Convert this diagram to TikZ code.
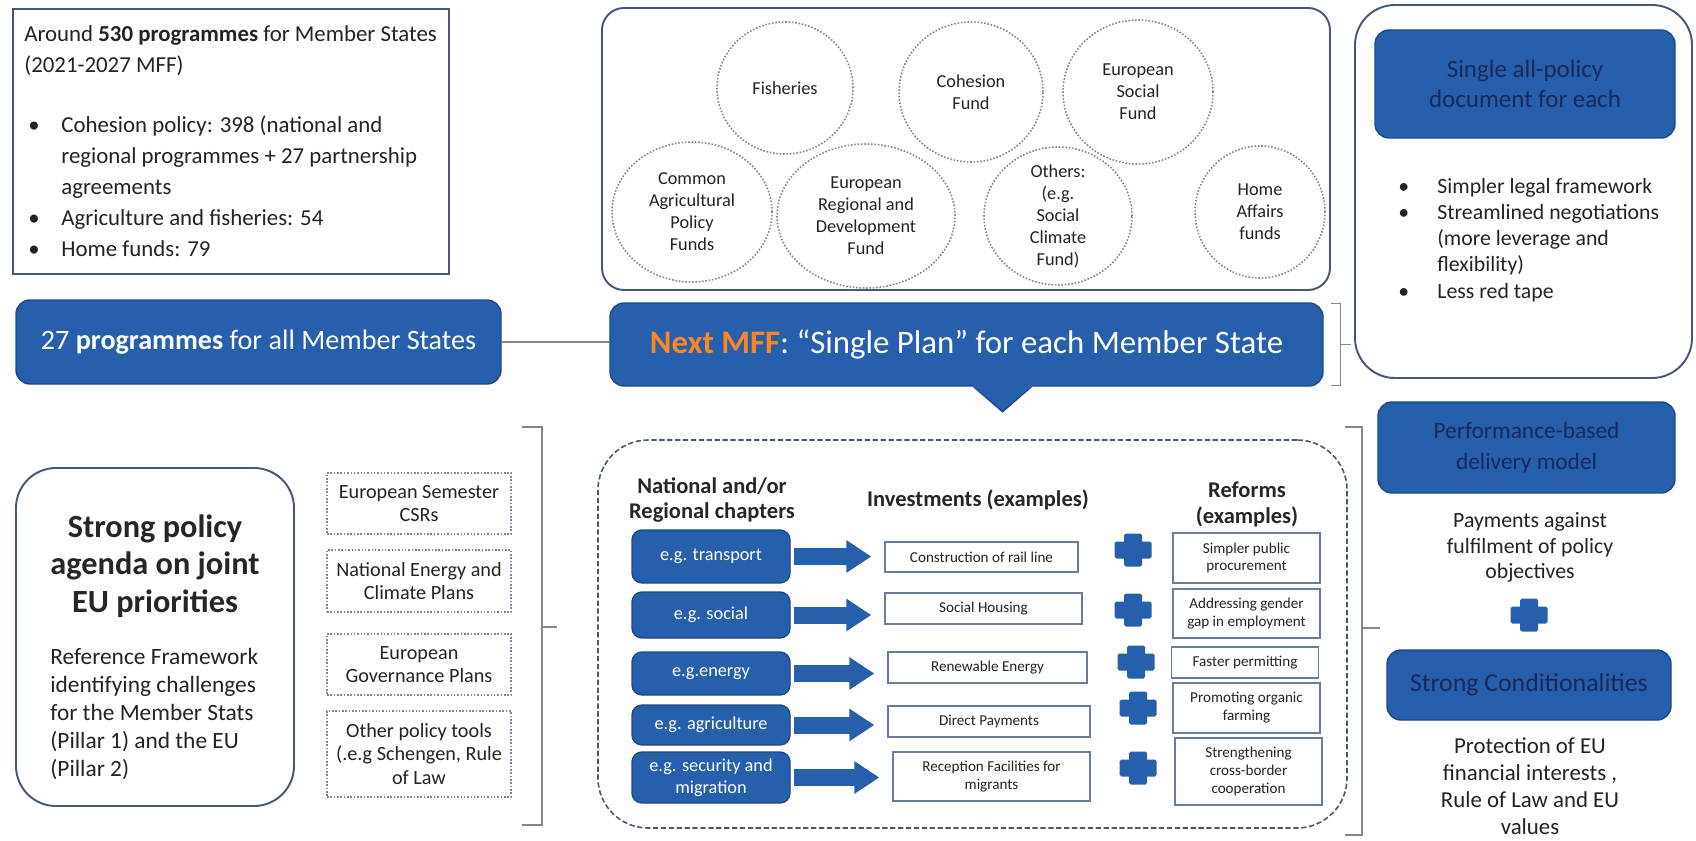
\documentclass[tikz,border=0pt]{standalone}
\usepackage{fontspec}
\setmainfont{Carlito}
\usetikzlibrary{arrows.meta,calc,shapes.geometric}
\definecolor{eublue}{RGB}{38,95,172}
\definecolor{euedge}{RGB}{30,72,138}
\definecolor{eunavy}{RGB}{24,42,92}
\definecolor{euorange}{RGB}{250,135,35}
\definecolor{eutext}{RGB}{35,35,35}
\definecolor{euframe}{RGB}{70,88,118}
\definecolor{euthin}{RGB}{105,125,155}
\definecolor{eudot}{RGB}{125,135,150}
\definecolor{euline}{RGB}{135,135,135}
\newlength{\pxu}
\setlength{\pxu}{0.02cm}

\begin{document}
\begin{tikzpicture}[x=0.02cm, y=-0.02cm,
    sz/.style 2 args={minimum width=#1*0.02cm, minimum height=#2*0.02cm},
    outerbox/.style={draw=euframe, line width=1.1pt, rounded corners=#1*0.02cm, inner sep=0pt},
    bluebox/.style={fill=eublue, draw=euedge, line width=0.8pt, rounded corners=#1*0.02cm, text=white, align=center, inner sep=0pt},
    headbox/.style={bluebox=14, text=eunavy},
    chapbox/.style={bluebox=10, minimum width=158*0.02cm, font=\fontsize{10.4}{12.5}\selectfont},
    fund/.style 2 args={ellipse, draw=eudot, densely dotted, line width=0.9pt, sz={#1}{#2}, inner sep=-0.3cm, align=center, text=eutext, font=\fontsize{10.4}{12.5}\selectfont},
    toolbox/.style={draw=eudot, densely dotted, line width=0.9pt, minimum width=184*0.02cm, inner sep=0pt, align=center, text=eutext, font=\fontsize{11.5}{13.4}\selectfont},
    planbox/.style={draw=euframe, dash pattern=on 3pt off 1.5pt, line width=0.9pt, rounded corners=50*0.02cm, inner sep=0pt},
    colhead/.style={align=center, inner sep=0pt, text=black!85, font=\bfseries\fontsize{12.8}{14.4}\selectfont},
    invbox/.style={draw=euthin, line width=0.8pt, fill=white, inner sep=0pt, align=center, text=eutext, font=\fontsize{8.6}{10.2}\selectfont},
    bodytxt/.style={align=center, inner sep=0pt, text=eutext, font=\fontsize{12.4}{14.7}\selectfont},
    bigarrow/.style={draw=eublue, line width=0.34cm, shorten <=0.06cm, shorten >=0.26cm, -{Triangle[length=0.5cm, width=0.62cm]}},
    brk/.style={draw=euline, line width=0.8pt}]

\fill[white] (0,0) rectangle (1696,841);
\useasboundingbox (0,0) rectangle (1696,841);

\node[outerbox=0, sz={436}{265}] (oldbox) at (231,141.5) {};
\node[anchor=west, align=left, inner sep=0pt, text=eutext, font=\fontsize{13}{17.6}\selectfont] (oldtxt) at (24,141)
  {Around \textbf{530 programmes} for Member States\\(2021-2027 MFF)\\[17pt]
   \hspace*{4\pxu}\makebox[33\pxu][l]{\textbullet}Cohesion policy: 398 (national and\\
   \hspace*{37\pxu}regional programmes + 27 partnership\\
   \hspace*{37\pxu}agreements\\
   \hspace*{4\pxu}\makebox[33\pxu][l]{\textbullet}Agriculture and fisheries: 54\\
   \hspace*{4\pxu}\makebox[33\pxu][l]{\textbullet}Home funds: 79};

\node[outerbox=22, sz={728}{282}] (fundbox) at (966,149) {};
\node[fund={136}{132}] (fish) at (785,88) {Fisheries};
\node[fund={144}{140}] (cohes) at (971,92) {Cohesion\\Fund};
\node[fund={150}{144}] (esf) at (1138,92) {European\\Social\\Fund};
\node[fund={160}{140}] (cap) at (692,212) {Common\\Agricultural\\Policy\\Funds};
\node[fund={178}{144}] (erdf) at (866,216) {European\\Regional and\\Development\\Fund};
\node[fund={148}{138}] (others) at (1058,216) {Others:\\(e.g.\\Social\\Climate\\Fund)};
\node[fund={130}{132}] (home) at (1260,212) {Home\\Affairs\\funds};

\node[outerbox=40, sz={337}{373}] (docbox) at (1523.5,191.5) {};
\node[headbox, sz={300}{108}, font=\fontsize{14.2}{17}\selectfont] (dochead) at (1525,84) {Single all-policy\\document for each};
\node[anchor=west, align=left, inner sep=0pt, text=eutext, font=\fontsize{12.4}{14.9}\selectfont] (doctxt) at (1398,240)
  {\makebox[39\pxu][l]{\textbullet}Simpler legal framework\\
   \makebox[39\pxu][l]{\textbullet}Streamlined negotiations\\
   \hspace*{39\pxu}(more leverage and\\
   \hspace*{39\pxu}flexibility)\\
   \makebox[39\pxu][l]{\textbullet}Less red tape};

\node[bluebox=14, sz={485}{84}, font=\fontsize{16}{18}\selectfont] (progs27) at (258.5,342) {27 \textbf{programmes} for all Member States};
\node[bluebox=14, sz={713}{83}, font=\fontsize{18.7}{22}\selectfont] (singleplan) at (966.5,344.5)
  {\textcolor{euorange}{\textbf{Next MFF}}: “Single Plan” for each Member State};
\fill[eublue] ($(singleplan.south)+(6,-2)$) -- ($(singleplan.south)+(36,25)$) -- ($(singleplan.south)+(66,-2)$) -- cycle;
\draw[euedge, line width=0.8pt] ($(singleplan.south)+(7,0)$) -- ($(singleplan.south)+(36,25)$) -- ($(singleplan.south)+(65,0)$);
\draw[euline, line width=0.8pt] (progs27.east) -- (progs27.east -| singleplan.west);
\draw[brk] ($(singleplan.north east)+(7,1)$) -| ($(singleplan.south east)+(17,-1)$) -- ++(-10,0)
  ($(singleplan.east)+(17,0)$) -- ($(singleplan.east)+(27,0)$);

\node[outerbox=40, sz={278}{338}] (policybox) at (155,637) {};
\node[align=center, inner sep=0pt, text=black!85, font=\bfseries\fontsize{18.4}{21.5}\selectfont] (policyhead) at (155,566) {Strong policy\\agenda on joint\\EU priorities};
\node[anchor=west, align=left, inner sep=0pt, text=eutext, font=\fontsize{13.3}{15.8}\selectfont] (policytxt) at (50,714)
  {Reference Framework\\identifying challenges\\for the Member Stats\\(Pillar 1) and the EU\\(Pillar 2)};

\node[toolbox, minimum height=61*0.02cm] (tool1) at (419,503.5) {European Semester\\CSRs};
\node[toolbox, minimum height=62*0.02cm] (tool2) at (419,581) {National Energy and\\Climate Plans};
\node[toolbox, minimum height=61*0.02cm] (tool3) at (419,664.5) {European\\Governance Plans};
\node[toolbox, minimum height=86*0.02cm] (tool4) at (419,754) {Other policy tools\\(.e.g Schengen, Rule\\of Law};
\draw[brk] (522,427) -- (542,427) -- (542,825) -- (522,825) (542,627) -- (557,627);

\node[planbox, sz={749}{388}] (planbox) at (972.5,634) {};
\node[colhead] (chaphead) at (712,500) {National and/or\\Regional chapters};
\node[colhead] (invhead) at (978,499.5) {Investments (examples)};
\node[colhead] (refhead) at (1247,504.5) {Reforms\\(examples)};

\node[chapbox, minimum height=53*0.02cm] (chap1) at (711,556.5) {e.g. transport};
\node[chapbox, minimum height=46*0.02cm] (chap2) at (711,615) {e.g. social};
\node[chapbox, minimum height=43*0.02cm] (chap3) at (711,673.5) {e.g.energy};
\node[chapbox, minimum height=40*0.02cm] (chap4) at (711,725) {e.g. agriculture};
\node[chapbox, minimum height=51*0.02cm] (chap5) at (711,777.5) {e.g. security and\\migration};

\node[invbox, sz={193}{30}] (inv1) at (981.5,557) {Construction of rail line};
\node[invbox, sz={197}{31}] (inv2) at (983.5,608.5) {Social Housing};
\node[invbox, sz={199}{31}] (inv3) at (987.5,667.5) {Renewable Energy};
\node[invbox, sz={202}{31}] (inv4) at (989,721.5) {Direct Payments};
\node[invbox, sz={197}{49}] (inv5) at (991.5,776.5) {Reception Facilities for\\migrants};

\foreach \i in {1,...,5}
  \draw[bigarrow] (chap\i.east) -- (chap\i.east -| inv\i.west);

\node[invbox, sz={147}{50}] (ref1) at (1246.5,558) {Simpler public\\procurement};
\node[invbox, sz={147}{49}] (ref2) at (1246.5,613.5) {Addressing gender\\gap in employment};
\node[invbox, sz={147}{31}] (ref3) at (1245,662.5) {Faster permitting};
\node[invbox, sz={147}{50}] (ref4) at (1246.5,708) {Promoting organic\\farming};
\node[invbox, sz={147}{67}] (ref5) at (1248.5,771.5) {Strengthening\\cross-border\\cooperation};

\foreach \cx/\cy in {1133/550,1133/610,1136/662,1138/708,1138/768,1529/615}{
  \fill[eublue, rounded corners=1pt] (\cx-18.5,\cy-8.5) rectangle (\cx+18.5,\cy+8.5);
  \fill[eublue, rounded corners=1pt] (\cx-9,\cy-16.5) rectangle (\cx+9,\cy+16.5);
}

\draw[brk] (1345,427) -- (1362,427) -- (1362,835) -- (1345,835) (1362,628) -- (1380,628);

\node[headbox, sz={297}{91}, font=\fontsize{13.3}{17.5}\selectfont] (perfbox) at (1526.5,447.5) {Performance-based\\delivery model};
\node[bodytxt] (paytxt) at (1530,547.5) {Payments against\\fulfilment of policy\\objectives};
\node[headbox, sz={284}{70}, font=\fontsize{14.7}{18.1}\selectfont] (condbox) at (1529,685) {Strong Conditionalities};
\node[bodytxt, font=\fontsize{13}{15.3}\selectfont] (protxt) at (1530,786) {Protection of EU\\financial interests ,\\Rule of Law and EU\\values};

\end{tikzpicture}
\end{document}
